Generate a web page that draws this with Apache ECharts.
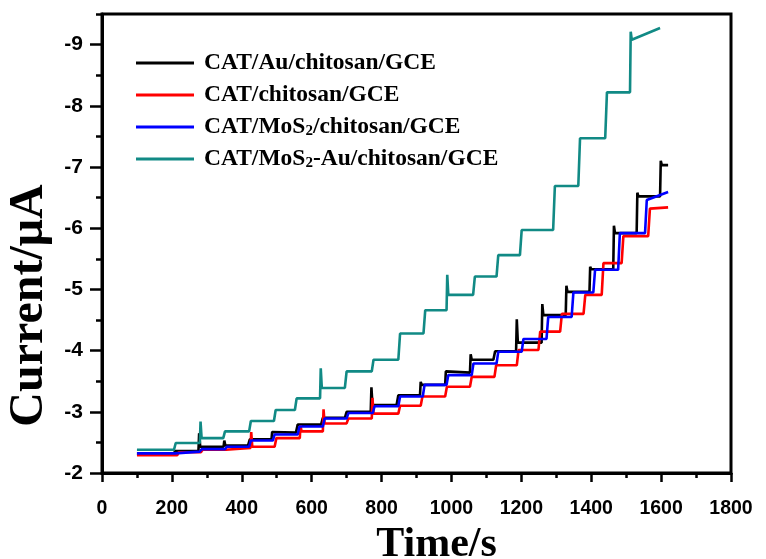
<!DOCTYPE html>
<html>
<head>
<meta charset="utf-8">
<title>CAT i-t curves</title>
<style>
  body { margin: 0; background: #fff; }
  #main { width: 766px; height: 559px; }
</style>
</head>
<body>
<div id="main"></div>
<script src="https://cdn.jsdelivr.net/npm/echarts@6/dist/echarts.min.js"></script>
<script type="text/javascript">
// series names (legend order)
var names = ['CAT/Au/chitosan/GCE', 'CAT/chitosan/GCE', 'CAT/MoS2/chitosan/GCE', 'CAT/MoS2-Au/chitosan/GCE'];
var colors = ['#000000', '#ff0000', '#0000ff', '#118a85'];

// axis ticks
var xTicks = [0, 200, 400, 600, 800, 1000, 1200, 1400, 1600, 1800];
var yTicks = [-9, -8, -7, -6, -5, -4, -3, -2];
var yHalfTicks = [-9.5, -8.5, -7.5, -6.5, -5.5, -4.5, -3.5, -2.5];

// CAT/Au/chitosan/GCE (black): step times (s), plateau current (uA), spike peaks
var blackSteps  = [205, 276, 348, 418, 485, 555, 627, 695, 769, 843, 910, 982, 1053, 1120, 1185, 1258, 1327, 1395, 1463, 1530, 1597];
var blackLevels = [-2.32, -2.36, -2.43, -2.45, -2.55, -2.66, -2.79, -2.90, -3.00, -3.11, -3.27, -3.44, -3.64, -3.85, -3.99, -4.13, -4.58, -4.96, -5.33, -5.92, -6.52, -7.03];
var blackSpikes = [null, -2.65, -2.53, null, -2.67, null, null, null, -3.40, null, -3.49, -3.66, -3.94, null, -4.51, -4.76, -5.06, -5.37, -6.04, -6.58, -7.10];
var blackEnd    = [1620, -7.03];

// CAT/chitosan/GCE (red)
var redSteps  = [215, 283, 355, 425, 494, 566, 632, 700, 772, 848, 912, 982, 1053, 1123, 1187, 1249, 1311, 1378, 1430, 1487, 1563];
var redLevels = [-2.29, -2.34, -2.38, -2.41, -2.43, -2.57, -2.68, -2.81, -2.89, -2.97, -3.10, -3.25, -3.41, -3.57, -3.76, -4.01, -4.31, -4.60, -4.91, -5.43, -5.87, -6.32];
var redSpikes = [null, null, null, -2.67, null, -2.78, -3.04, null, -3.23, null, null, null, null, null, null, null, null, null, null, null, null];
var redEnd    = [1620, -6.34];

// CAT/MoS2/chitosan/GCE (blue)
var blueSteps  = [209, 280, 352, 421, 489, 560, 632, 700, 775, 848, 918, 986, 1058, 1129, 1201, 1272, 1344, 1406, 1477, 1554];
var blueLevels = [-2.32, -2.35, -2.39, -2.43, -2.53, -2.63, -2.76, -2.89, -2.98, -3.09, -3.25, -3.44, -3.60, -3.79, -3.98, -4.19, -4.55, -4.95, -5.32, -5.92, -6.46];
var blueSpikes = [null, null, null, null, null, null, null, null, null, null, null, null, null, null, null, null, null, null, null, null];
var blueEnd    = [1620, -6.59];

// CAT/MoS2-Au/chitosan/GCE (teal)
var tealSteps  = [206, 280, 347, 421, 492, 552, 624, 695, 772, 848, 920, 986, 1062, 1129, 1196, 1291, 1363, 1440, 1511];
var tealLevels = [-2.38, -2.49, -2.57, -2.68, -2.85, -3.03, -3.22, -3.39, -3.66, -3.85, -4.28, -4.66, -4.91, -5.21, -5.56, -5.97, -6.69, -7.47, -8.22, -9.08];
var tealSpikes = [null, -2.84, null, null, null, null, -3.71, null, null, null, null, -5.24, null, null, null, null, null, null, -9.21];
var tealEnd    = [1597, -9.27];

var startTime = 100;

// turn step list into a staircase polyline
function stairs(steps, levels, spikes, end) {
	var pts = [[startTime, levels[0]]];
	for (var i = 0; i < steps.length; i++) {
		pts.push([steps[i], levels[i]]);
		if (spikes[i] !== null) {
			pts.push([steps[i] + 2, spikes[i]]);
		}
		pts.push([steps[i] + 5, levels[i + 1]]);
	}
	pts.push(end);
	return pts;
}

var allData = [
	stairs(blackSteps, blackLevels, blackSpikes, blackEnd),
	stairs(redSteps, redLevels, redSpikes, redEnd),
	stairs(blueSteps, blueLevels, blueSpikes, blueEnd),
	stairs(tealSteps, tealLevels, tealSpikes, tealEnd)
];

var myChart = echarts.init(document.getElementById('main'));

var serif = 'Liberation Serif, Times New Roman, serif';
var sans = 'Liberation Sans, Arial, sans-serif';

var series = names.map(function (n, i) {
	return {
		name: n,
		type: 'line',
		data: allData[i],
		showSymbol: false,
		symbol: 'none',
		lineStyle: { color: colors[i], width: 2.6 },
		itemStyle: { color: colors[i] },
		animation: false
	};
});

var option = {
	animation: false,
	grid: {
		left: 102, right: 35, top: 14, bottom: 86,
		outerBoundsMode: 'none',
		containLabel: false,
		show: true, borderColor: '#000', borderWidth: 3
	},
	legend: {
		orient: 'vertical',
		left: 131,
		top: 46,
		itemGap: 8,
		itemWidth: 58,
		itemHeight: 3,
		icon: 'rect',
		data: names,
		formatter: function (name) {
			return name.replace('MoS2', 'MoS{sub|2}');
		},
		textStyle: {
			fontFamily: serif, fontWeight: 'bold', fontSize: 23.5, color: '#000',
			lineHeight: 24, padding: [0, 0, 0, 5],
			rich: {
				sub: { fontFamily: serif, fontWeight: 'bold', fontSize: 15, color: '#000', verticalAlign: 'bottom', lineHeight: 24 }
			}
		}
	},
	xAxis: {
		type: 'value',
		min: 0, max: 1800, interval: 200,
		name: 'Time/s',
		nameLocation: 'middle',
		nameGap: 43,
		nameTextStyle: { fontFamily: serif, fontWeight: 'bold', fontSize: 42, color: '#000', padding: [0, 0, 0, 40] },
		axisLine: { lineStyle: { color: '#000', width: 3 } },
		axisTick: { inside: false, length: 9, lineStyle: { color: '#000', width: 2.5 } },
		minorTick: { show: true, splitNumber: 2, length: 5, lineStyle: { color: '#000', width: 2.5 } },
		axisLabel: {
			fontFamily: sans, fontWeight: 'bold', fontSize: 19.5, color: '#000', margin: 26,
			formatter: function (v) { return String(v); }
		},
		splitLine: { show: false }
	},
	yAxis: [{
		type: 'value',
		min: -9.5, max: -2,
		inverse: true,
		position: 'left',
		name: 'Current/\u03bcA',
		nameLocation: 'middle',
		nameGap: 47,
		nameTextStyle: { fontFamily: serif, fontWeight: 'bold', fontSize: 48, color: '#000', padding: [0, 124, 0, 0] },
		axisLine: { show: true, lineStyle: { color: '#000', width: 3 } },
		axisTick: { show: true, inside: false, length: 12, customValues: yTicks, lineStyle: { color: '#000', width: 2.5 } },
		axisLabel: { customValues: yTicks, fontFamily: sans, fontWeight: 'bold', fontSize: 21, color: '#000', margin: 19 },
		splitLine: { show: false }
	}, {
		type: 'value',
		min: -9.5, max: -2,
		inverse: true,
		position: 'left',
		offset: 0,
		axisLine: { show: false },
		axisTick: { show: true, inside: false, length: 6, customValues: yHalfTicks, lineStyle: { color: '#000', width: 2.5 } },
		axisLabel: { show: false },
		splitLine: { show: false }
	}],
	series: series
};

myChart.setOption(option);
</script>
</body>
</html>
